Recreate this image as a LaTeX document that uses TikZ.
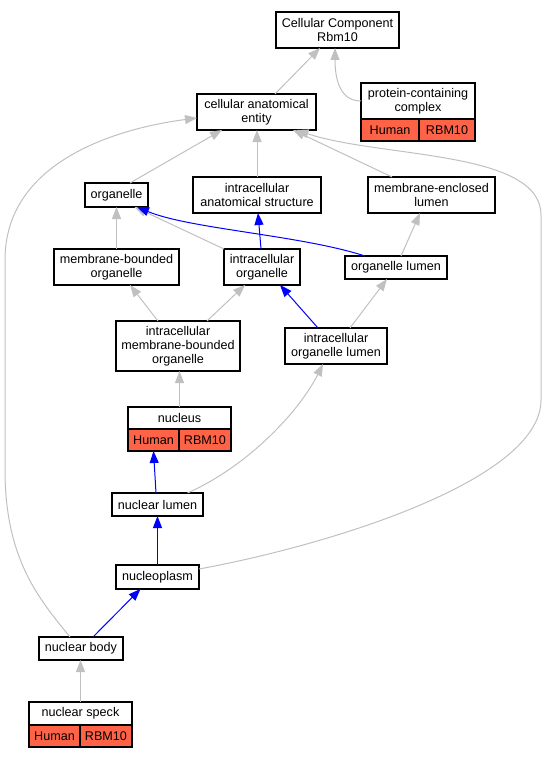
\documentclass[tikz,border=0pt]{standalone}
\usepackage{fontspec}
\setmainfont{Liberation Sans}
\usetikzlibrary{arrows.meta}
\definecolor{silver}{HTML}{C0C0C0}
\definecolor{tomato}{HTML}{FF6347}
\tikzset{>={Triangle[length=12pt,width=9pt]}}

\begin{document}
\begin{tikzpicture}[x=1pt, y=-1pt,
term/.style = {draw=black, line width=1.1pt, fill=white,
               inner sep=0pt, outer sep=0pt,
               align=center,
               font=\fontsize{12.6}{14}\selectfont},
cell/.style = {term, fill=tomato, minimum height=22pt},
isa/.style = {draw=silver, line width=1pt, ->},
partof/.style = {draw=blue, line width=1pt, ->},
]
\useasboundingbox (0,0) rectangle (550,757);
        % top
        \node (cc)     [term, minimum width=123pt, minimum height=36pt]
                       at (337.5,30) {Cellular Component\\Rbm10};
        \node (pcc)    [term, minimum width=114pt, minimum height=36pt]
                       at (418,101) {protein-containing\\complex};
        \node (pccH)   [cell, minimum width=58pt, anchor=north west]
                       at (pcc.south west) {Human};
        \node (pccR)   [cell, minimum width=56pt, anchor=north east]
                       at (pcc.south east) {RBM10};
        \node (cae)    [term, minimum width=119pt, minimum height=36pt]
                       at (256.5,112) {cellular anatomical\\entity};
        % second level
        \node (org)    [term, minimum width=63pt, minimum height=24pt]
                       at (116.5,195) {organelle};
        \node (ias)    [term, minimum width=128pt, minimum height=36pt]
                       at (257,195) {intracellular\\anatomical structure};
        \node (mel)    [term, minimum width=127pt, minimum height=36pt]
                       at (431.5,195) {membrane-enclosed\\lumen};
        % third level
        \node (mbo)    [term, minimum width=125pt, minimum height=36pt]
                       at (116.5,267) {membrane-bounded\\organelle};
        \node (io)     [term, minimum width=76pt, minimum height=36pt]
                       at (262,267) {intracellular\\organelle};
        \node (ol)     [term, minimum width=102pt, minimum height=23pt]
                       at (396,267.5) {organelle lumen};
        \node (imbo)   [term, minimum width=124pt, minimum height=50pt]
                       at (178,346) {intracellular\\membrane-bounded\\organelle};
        \node (iol)    [term, minimum width=102pt, minimum height=36pt]
                       at (336,346) {intracellular\\organelle lumen};
        % nucleus and below
        \node (nucleus) [term, minimum width=103pt, minimum height=22pt]
                       at (179.5,418) {nucleus};
        \node (nucleusH) [cell, minimum width=51pt, anchor=north west]
                       at (nucleus.south west) {Human};
        \node (nucleusR) [cell, minimum width=52pt, anchor=north east]
                       at (nucleus.south east) {RBM10};
        \node (nlumen) [term, minimum width=91pt, minimum height=23pt]
                       at (157.5,504.5) {nuclear lumen};
        \node (nplasm) [term, minimum width=83pt, minimum height=24pt]
                       at (157.5,577) {nucleoplasm};
        \node (nbody)  [term, minimum width=84pt, minimum height=23pt]
                       at (81,648.5) {nuclear body};
        \node (nspeck) [term, minimum width=103pt, minimum height=23pt]
                       at (80.5,713.5) {nuclear speck};
        \node (nspeckH) [cell, minimum width=51pt, anchor=north west]
                       at (nspeck.south west) {Human};
        \node (nspeckR) [cell, minimum width=52pt, anchor=north east]
                       at (nspeck.south east) {RBM10};
        % is_a edges
        \draw[isa] ([xshift=18.5pt]cae.north) -- ([xshift=-17.5pt]cc.south);
        \draw[isa] (pcc.west) .. controls (343,101) and (335,85)
                   .. ([xshift=-2.5pt]cc.south);
        \draw[isa] ([xshift=13.5pt]org.north) -- ([xshift=-34.5pt]cae.south);
        \draw[isa] (ias.north) -- (ias.north |- cae.south);
        \draw[isa] ([xshift=-39.5pt]mel.north) -- ([xshift=36.5pt]cae.south);
        \draw[isa] ([yshift=8pt]nplasm.east) .. controls (330,545) and (541,480)
                   .. (541,400) -- (541,215) .. controls (541,150) and (380,158)
                   .. ([xshift=40pt]cae.south);
        \draw[isa] ([xshift=-11pt]nbody.north) .. controls (40,600) and (5,560)
                   .. (5,470) -- (5,260) .. controls (5,160) and (120,128)
                   .. ([yshift=-6pt]cae.west);
        \draw[isa] (mbo.north) -- (org.south);
        \draw[isa] (io.north west) -- ([xshift=18pt]org.south);
        \draw[isa] ([xshift=5pt]ol.north) -- ([xshift=-11.5pt]mel.south);
        \draw[isa] ([xshift=-20pt]imbo.north) -- ([xshift=13.5pt]mbo.south);
        \draw[isa] ([xshift=29pt]imbo.north) -- ([xshift=-17pt]io.south);
        \draw[isa] ([xshift=14pt]iol.north) -- ([xshift=-9pt]ol.south);
        \draw[isa] (nucleus.north) -- (nucleus.north |- imbo.south);
        \draw[isa] ([xshift=30pt]nlumen.north) .. controls (250,465) and (300,410)
                   .. ([xshift=-13pt]iol.south);
        \draw[isa] (nspeck.north) -- (nspeck.north |- nbody.south);
        % part_of edges
        \draw[partof] ([xshift=-31pt]ol.north) .. controls (300,235) and (190,229)
                      .. ([xshift=20.5pt]org.south);
        \draw[partof] ([xshift=-1pt]io.north) -- ([xshift=1pt]ias.south);
        \draw[partof] ([xshift=-18pt]iol.north) -- ([xshift=18pt]io.south);
        \draw[partof] ([xshift=-1.5pt]nlumen.north) -- (nucleusH.south);
        \draw[partof] (nplasm.north) -- (nlumen.south);
        \draw[partof] ([xshift=12pt]nbody.north) -- ([xshift=-17pt]nplasm.south);
\end{tikzpicture}
\end{document}
